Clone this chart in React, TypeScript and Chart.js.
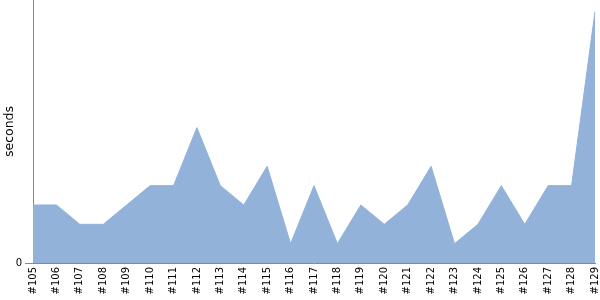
import React, { useEffect, useRef } from "react";
import { Chart, registerables } from "chart.js";

Chart.register(...registerables);

const builds = ["#105", "#106", "#107", "#108", "#109", "#110", "#111", "#112", "#113", "#114", "#115", "#116", "#117", "#118", "#119", "#120", "#121", "#122", "#123", "#124", "#125", "#126", "#127", "#128", "#129"];
const durations = [3, 3, 2, 2, 3, 4, 4, 7, 4, 3, 5, 1, 4, 1, 3, 2, 3, 5, 1, 2, 4, 2, 4, 4, 13];
const yTicks = [0];
const yMax = 13.6;

export default function App() {
  const ref = useRef<HTMLCanvasElement>(null);
  useEffect(() => {
    document.body.style.margin = "0";
    const ctx = ref.current!;
    const chart = new Chart(ctx, {
      type: "line",
      data: {
        labels: builds,
        datasets: [
          {
            data: durations,
            fill: "origin",
            backgroundColor: "rgb(146,178,218)",
            borderColor: "rgb(146,178,218)",
            borderWidth: 1,
            pointRadius: 0,
            tension: 0,
          },
        ],
      },
      options: {
        animation: false,
        responsive: false,
        maintainAspectRatio: false,
        layout: { padding: 0 },
        plugins: { legend: { display: false }, tooltip: { enabled: false } },
        scales: {
          x: {
            offset: false,
            grid: { display: true, drawOnChartArea: false, drawTicks: false },
            border: { display: true, color: "#888888", width: 1 },
            ticks: {
              autoSkip: false,
              maxRotation: 90,
              minRotation: 90,
              padding: 4,
              color: "#000000",
              font: { family: "DejaVu Sans", size: 10 },
            },
            afterFit: (s: any) => {
              s.height = 37;
              s.paddingRight = 5;
              s.paddingLeft = 0;
            },
          },
          y: {
            min: 0,
            max: yMax,
            grid: { display: true, drawOnChartArea: false, drawTicks: true, tickLength: 8, color: "#888888" },
            border: { display: true, color: "#888888", width: 1 },
            ticks: {
              padding: 3,
              color: "#000000",
              font: { family: "DejaVu Sans", size: 10 },
            },
            afterBuildTicks: (s: any) => {
              s.ticks = yTicks.map((v) => ({ value: v }));
            },
            afterFit: (s: any) => {
              s.width = 33;
              s.paddingTop = 0;
              s.paddingBottom = 0;
            },
            title: {
              display: true,
              text: "seconds",
              color: "#000000",
              padding: { top: 2, bottom: 0 },
              font: { family: "DejaVu Sans", size: 12.5 },
            },
          },
        },
      },
    });
    return () => chart.destroy();
  }, []);
  return <canvas ref={ref} width={600} height={300} style={{ display: "block" }} />;
}
